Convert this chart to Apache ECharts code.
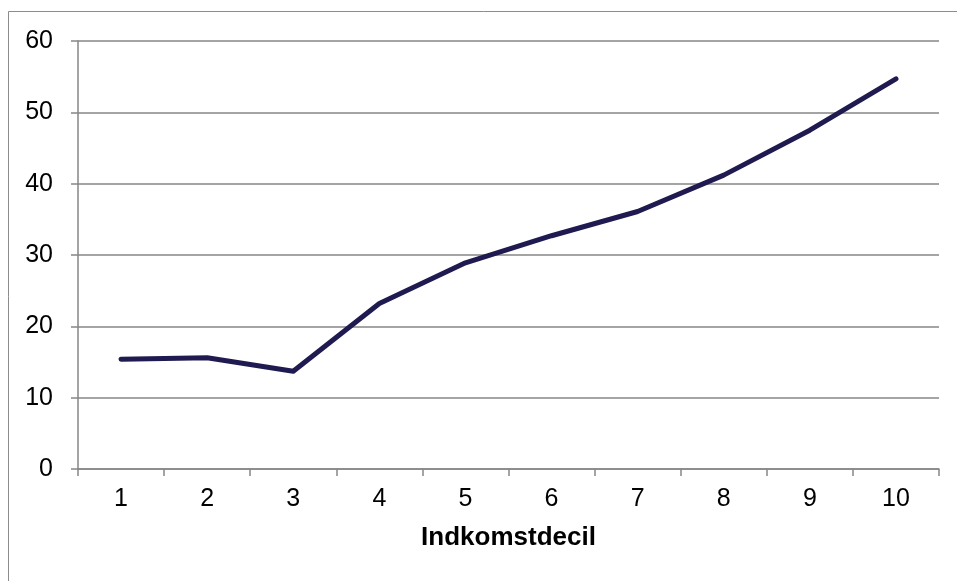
<!DOCTYPE html>
<html>
<head>
<meta charset="utf-8">
<script src="https://cdn.jsdelivr.net/npm/echarts@6/dist/echarts.min.js"></script>
<style>
html,body{margin:0;padding:0;background:#fff;}
#c{width:957px;height:581px;}
</style>
</head>
<body>
<div id="c"></div>
<script>
const categories = ['1','2','3','4','5','6','7','8','9','10'];
const values = [15.4, 15.6, 13.7, 23.2, 28.9, 32.7, 36.1, 41.2, 47.5, 54.7];
const yTicks = [0, 10, 20, 30, 40, 50, 60];
const xName = 'Indkomstdecil';

const chart = echarts.init(document.getElementById('c'), null, {renderer: 'canvas'});
const font = 'Liberation Sans, Arial, sans-serif';
chart.setOption({
  animation: false,
  graphic: [{
    type: 'rect', silent: true,
    shape: {x: 8.5, y: 11.5, width: 1200, height: 1200},
    style: {fill: 'none', stroke: '#8c8c8c', lineWidth: 1}
  }],
  grid: {left: 78, right: 18, top: 41, bottom: 112, containLabel: false},
  xAxis: {
    type: 'category',
    data: categories,
    boundaryGap: true,
    name: xName,
    nameLocation: 'middle',
    nameGap: 56,
    nameTextStyle: {fontFamily: font, fontSize: 26, fontWeight: 'bold', color: '#000'},
    axisLine: {show: true, lineStyle: {color: '#868686', width: 1.5}},
    axisTick: {show: true, alignWithLabel: false, length: 7, lineStyle: {color: '#868686', width: 1.5}},
    axisLabel: {fontFamily: font, fontSize: 25, color: '#000', margin: 18},
    splitLine: {show: false}
  },
  yAxis: {
    type: 'value',
    min: yTicks[0],
    max: yTicks[yTicks.length - 1],
    interval: 10,
    axisLine: {show: true, lineStyle: {color: '#868686', width: 1.5}},
    axisTick: {show: true, length: 7, lineStyle: {color: '#868686', width: 1.5}},
    axisLabel: {fontFamily: font, fontSize: 25, color: '#000', margin: 25},
    splitLine: {show: true, lineStyle: {color: '#868686', width: 1.5}}
  },
  series: [{
    type: 'line',
    data: values,
    symbol: 'none',
    smooth: false,
    lineStyle: {color: '#1f1a50', width: 5, cap: 'round', join: 'round'}
  }]
});
</script>
</body>
</html>
